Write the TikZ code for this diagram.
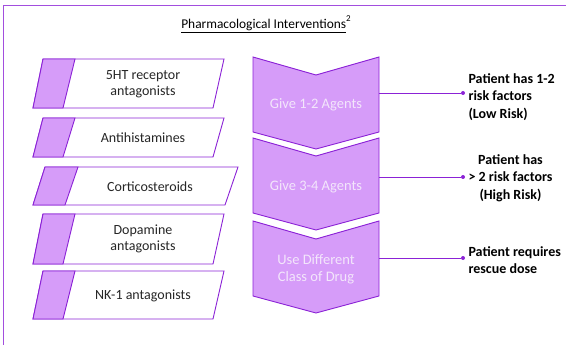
\documentclass[tikz,border=0pt]{standalone}
\usepackage{fontspec}
\setmainfont{Carlito}
\usetikzlibrary{calc}
\definecolor{pfill}{HTML}{D69CF9}
\definecolor{pline}{HTML}{8B22D6}
\definecolor{ptext}{HTML}{F3E6FB}
\tikzset{
  x=1pt,y=-1pt,
  parabox/.style={draw=pline,line width=0.9pt,fill=white,line join=miter},
  parastrip/.style={draw=pline,line width=0.9pt,fill=pfill},
  chev/.style={draw=pline,line width=0.9pt,fill=pfill},
  drug/.style={font=\fontsize{14}{16.5}\selectfont,text=black!85,align=center},
  agent/.style={font=\fontsize{14.5}{17}\selectfont,text=ptext,align=center},
  risk/.style={font=\bfseries\fontsize{14}{17.5}\selectfont,text=black,align=left,anchor=west},
  conn/.style={draw=pline,line width=0.9pt},
  dotn/.style={circle,fill=pline,inner sep=0pt,minimum size=4pt},
}
\begin{document}
\begin{tikzpicture}
\useasboundingbox (0,0) rectangle (566,345);
% frame
\draw[pline!80,line width=0.8pt] (3.5,345) -- (3.5,5) -- (566,5);
% title
\node (title) at (266,24) {\fontsize{13.4}{15}\selectfont\underline{Pharmacological Interventions}\raisebox{1.1ex}{\fontsize{9}{10}\selectfont 2}};
% parallelograms
\foreach \t/\b/\tl/\tr/\bl/\br/\st/\sb in {59/108/43/224/33/213/75/63, 118/157/43/224/33/213/75/63, 167/205/45/238/33/225/78/65, 214/264/43/224/33/213/75/63, 271/319/43/224/33/213/75/63}{
  \path[parabox] (\tl,\t) -- (\tr,\t) -- (\br,\b) -- (\bl,\b) -- cycle;
  \path[parastrip] (\tl,\t) -- (\st,\t) -- (\sb,\b) -- (\bl,\b) -- cycle;
}
\node[drug] (d1) at (143,84) {5HT receptor\\antagonists};
\node[drug] (d2) at (143,138) {Antihistamines};
\node[drug] (d3) at (150,187) {Corticosteroids};
\node[drug] (d4) at (143,239) {Dopamine\\antagonists};
\node[drug] (d5) at (143,296) {NK-1 antagonists};
% chevrons
\foreach \t in {57,138,221}{
  \path[chev] (253,\t) -- (316,\t+18) -- (379,\t) -- (379,\t+75) -- (316,\t+92) -- (253,\t+75) -- cycle;
}
\node[agent] (a1) at (316,105) {Give 1-2 Agents};
\node[agent] (a2) at (316,187) {Give 3-4 Agents};
\node[agent] (a3) at (316,269) {Use Different\\Class of Drug};
% connectors
\coordinate (e1) at (379,93);
\coordinate (e2) at (379,177);
\coordinate (e3) at (379,258);
\node[dotn] (p1) at (463,93) {};
\node[dotn] (p2) at (463,177) {};
\node[dotn] (p3) at (463,258) {};
\draw[conn] (e1) -- (p1);
\draw[conn] (e2) -- (p2);
\draw[conn] (e3) -- (p3);
% risk texts
\node[risk,align=left] (r1) at (465,97) {Patient has 1-2\\risk factors\\(Low Risk)};
\node[risk,align=center] (r2) at (465,178) {Patient has\\> 2 risk factors\\(High Risk)};
\node[risk,align=left] (r3) at (465,260) {Patient requires\\rescue dose};
\end{tikzpicture}
\end{document}
